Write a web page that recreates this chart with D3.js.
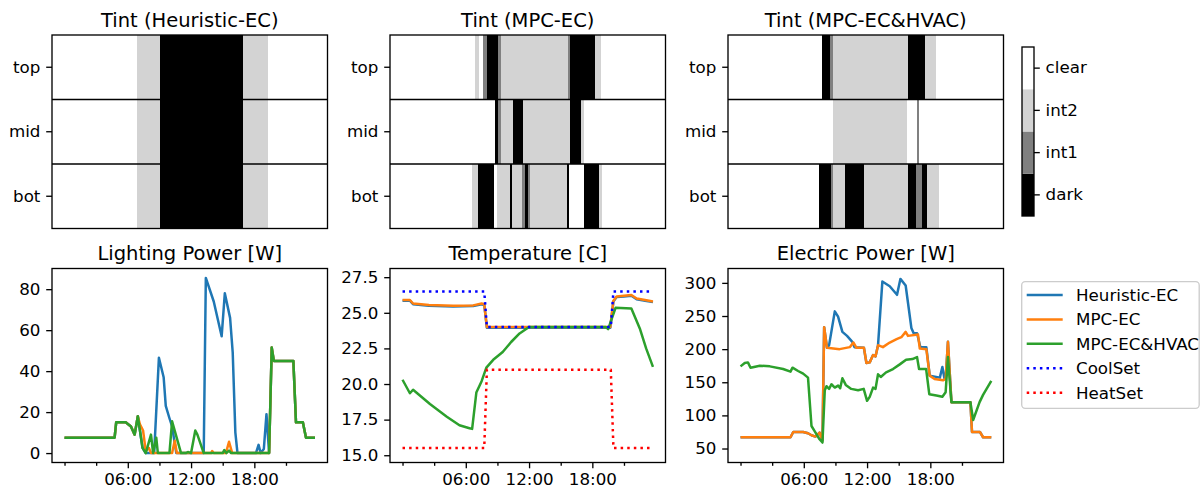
<!DOCTYPE html>
<html>
<head>
<meta charset="utf-8">
<script src="https://cdn.jsdelivr.net/npm/d3@7"></script>
<style>
  body { margin: 0; background: #fff; }
  svg text { font-family: "DejaVu Sans", sans-serif; fill: #000; }
</style>
</head>
<body>
<svg id="fig" width="1203" height="492"></svg>
<script>
// ---------- tint schedules ----------
// window-tint levels, darkest first
const tintLevels = ["dark", "int1", "int2", "clear"];
const tintColors = ["#000000", "#808080", "#d3d3d3", "#ffffff"];
const tintRows = ["top", "mid", "bot"];
// runs of non-clear tint per facade row: [start hour, end hour, level index]
const tintHeuristic = [
  [[7.4, 9.4, 2], [9.4, 16.6, 0], [16.6, 18.85, 2]],
  [[7.4, 9.4, 2], [9.4, 16.6, 0], [16.6, 18.85, 2]],
  [[7.4, 9.4, 2], [9.4, 16.6, 0], [16.6, 18.85, 2]]
];
const tintMpcEc = [
  [[7.42, 7.71, 2], [8.14, 8.43, 1], [8.43, 9.37, 0], [9.37, 9.66, 1], [9.66, 15.47, 2],
   [15.47, 15.71, 1], [15.71, 17.89, 0], [17.89, 18.38, 2]],
  [[9.16, 9.37, 0], [9.37, 9.66, 1], [9.66, 10.70, 2], [10.70, 11.58, 0], [11.58, 15.65, 2],
   [15.65, 16.64, 0], [16.64, 16.93, 2]],
  [[7.13, 7.65, 2], [7.65, 9.10, 0], [9.31, 10.47, 2], [10.47, 10.61, 0], [10.61, 11.49, 2],
   [11.49, 11.78, 1], [11.78, 11.98, 0], [11.98, 12.16, 1], [12.16, 15.42, 2], [15.42, 15.59, 0],
   [16.93, 18.18, 0], [18.18, 18.47, 2]]
];
const tintMpcEcHvac = [
  [[8.15, 8.87, 0], [8.87, 9.11, 1], [9.11, 15.71, 2], [15.71, 17.17, 0], [17.17, 18.13, 2]],
  [[9.16, 15.62, 2], [16.45, 16.65, 1]],
  [[7.92, 8.93, 0], [8.93, 9.16, 1], [9.16, 10.18, 2], [10.18, 11.84, 0], [11.84, 15.71, 2],
   [15.71, 16.38, 0], [16.38, 16.87, 1], [16.87, 17.37, 0], [17.37, 18.36, 2]]
];

// ---------- time series: [hour, value] ----------
const lightHeuristic = [[0,7.5],[4.75,7.5],[4.9,15],[5.8,15],[6.3,13],[6.65,9],[6.95,18],[7.4,2.5],[7.7,0],
  [8.5,0],[8.95,46.5],[9.4,37],[9.6,23],[9.95,17],[10.2,13],[10.6,0],[13.2,0],[13.4,85.5],[14.15,74],
  [14.9,57],[15.2,78],[15.7,66],[15.95,49],[16.2,10],[16.4,0],[18.15,0],[18.4,4],[18.6,0],[18.9,2],
  [19.15,19],[19.4,0],[19.65,51.5],[19.85,45],[21.7,45],[21.95,15],[22.6,15],[22.9,7.5],[23.75,7.5]];
const lightMpcEc = [[0,7.5],[4.75,7.5],[4.9,15],[5.8,15],[6.3,13],[6.65,9],[6.95,18],[7.15,14],[7.45,11],
  [7.7,1],[8.0,2.5],[8.2,0],[10.2,0],[10.45,6],[10.65,0],[13.9,0],[14.0,1],[14.15,0],[15.3,0],[15.6,5.5],
  [15.9,0],[19.4,0],[19.65,51.5],[19.85,45],[21.7,45],[21.95,15],[22.6,15],[22.9,7.5],[23.75,7.5]];
const lightMpcEcHvac = [[0,7.5],[4.75,7.5],[4.9,15],[5.8,15],[6.3,13],[6.65,9],[6.95,18],[7.4,2.5],[7.7,0],
  [8.2,9],[8.4,0],[8.7,7.5],[8.85,0],[9.95,0],[10.2,15.5],[11.05,0],[11.5,0],[11.7,0.5],[12.0,0],[12.4,11],
  [12.6,9],[13.2,0],[15.0,0],[15.15,1.5],[15.35,0],[15.6,1.2],[15.8,0],[19.4,0],[19.65,51.5],[19.85,45],
  [21.7,45],[21.95,15],[22.6,15],[22.9,7.5],[23.75,7.5]];

const tempHeuristic = [[0,25.85],[0.7,25.85],[1.0,25.6],[2.5,25.5],[4.8,25.45],[6.7,25.47],[7.5,25.6],
  [7.75,25.55],[8.0,23.95],[19.7,23.95],[20.0,25.8],[20.3,26.1],[21.0,26.15],[21.7,26.2],[22.2,25.95],
  [23.0,25.85],[23.75,25.75]];
const tempMpcEc = [[0,25.9],[0.7,25.9],[1.0,25.65],[2.5,25.55],[4.8,25.5],[6.7,25.52],[7.5,25.65],
  [7.75,25.6],[8.0,24],[19.7,24],[20.0,25.85],[20.3,26.15],[21.0,26.2],[21.7,26.25],[22.2,26.0],
  [23.0,25.9],[23.75,25.8]];
const tempMpcEcHvac = [[0,20.3],[0.7,19.35],[1.0,19.6],[2.6,18.6],[4.2,17.7],[5.4,17.1],[6.35,16.9],
  [6.6,16.85],[7.0,19.4],[7.5,20.2],[7.95,21.15],[8.6,21.7],[9.5,22.25],[10.3,22.95],[11.1,23.55],
  [12.0,24.0],[19.3,24.0],[19.5,23.85],[20.2,25.35],[21.7,25.3],[22.5,23.9],[23.1,22.5],[23.75,21.2]];
const coolSet = [[0,26.5],[7.75,26.5],[8.0,24],[19.75,24],[20.0,26.5],[23.75,26.5]];
const heatSet = [[0,15.5],[7.75,15.5],[8.0,21],[19.75,21],[20.0,15.5],[23.75,15.5]];

const elecHeuristic = [[0,67],[4.74,67],[5.0,75],[5.94,75],[6.4,73],[6.73,70],[7.1,68],[7.5,74],[7.77,62],
  [7.93,233],[8.2,202],[8.4,206],[8.94,257],[9.25,249],[9.66,226],[10.1,220],[10.6,211],[10.8,203],
  [11.7,202],[11.94,179],[12.25,180],[12.57,191],[12.8,189],[13.04,206],[13.45,302],[14.15,295],
  [14.84,282],[15.16,306],[15.66,296],[15.88,270],[16.2,232],[16.42,224],[16.74,224],[17.05,203],
  [17.62,203],[17.94,160],[18.9,157],[19.14,173],[19.35,155],[19.45,155],[19.67,211],[20.0,120],
  [21.8,120],[21.95,75],[22.7,75],[23.0,67],[23.78,67]];
const elecMpcEc = [[0,67],[4.74,67],[5.0,75],[5.94,75],[6.4,73],[6.73,70],[7.1,68],[7.5,74],[7.77,62],
  [7.93,233],[8.2,202],[9.4,200],[10.36,203],[10.7,210],[11.0,202],[11.7,202],[11.94,179],[12.25,180],
  [12.57,191],[12.8,189],[13.04,206],[13.5,203],[14.15,210],[14.8,215],[15.25,218],[15.66,226],
  [15.88,220],[16.83,222],[17.0,201],[17.62,200],[17.94,160],[18.4,155],[19.2,153],[19.45,155],
  [19.67,211],[20.0,120],[21.8,120],[21.95,75],[22.7,75],[23.0,67],[23.78,67]];
const elecMpcEcHvac = [[0,174],[0.4,179],[0.7,180],[0.95,172],[1.83,175],[2.78,174],[4.04,170],[4.74,166],
  [4.93,172],[5.46,167],[5.94,163],[6.4,157],[6.73,84],[7.04,76],[7.45,65],[7.77,59],[7.99,138],[8.15,144],
  [8.4,140],[8.62,147],[8.94,142],[9.25,145],[9.45,141],[9.66,156],[9.98,146],[10.5,140],[11.15,138],
  [11.68,140],[12.0,122],[12.25,128],[12.57,142],[12.8,140],[13.04,162],[13.3,158],[13.8,165],[14.46,170],
  [15.1,177],[15.7,184],[16.3,185],[16.74,188],[16.93,170],[17.6,170],[17.9,132],[18.57,130],[19.14,128],
  [19.45,135],[19.67,188],[20.0,120],[21.8,120],[22.06,93],[22.67,120],[23.0,131],[23.78,152]];

// ---------- axis ticks ----------
const hourMajorTicks = [6, 12, 18];
const hourMajorLabels = ["06:00", "12:00", "18:00"];
const hourMinorTicks = [0, 3, 9, 15, 21];
const lightTicks = [0, 20, 40, 60, 80];
const tempTicks = [15, 17.5, 20, 22.5, 25, 27.5];
const elecTicks = [50, 100, 150, 200, 250, 300];

const seriesNames = ["Heuristic-EC", "MPC-EC", "MPC-EC&HVAC", "CoolSet", "HeatSet"];
const seriesColors = ["#1f77b4", "#ff7f0e", "#2ca02c", "#0000ff", "#ff0000"];

// ---------- layout ----------
const svg = d3.select("#fig");
const colX = [52, 390, 728];
const panelW = 275.5;
const topRow = [35, 228.5];
const botRow = [268.5, 462.5];
const TICK = 5.8, MINOR = 3.3, PAD = 5.8;
const FS = 16.7, TITLE_FS = 19.5;
const SPINE = 1.33, LW = 2.5;

function frame(g, w, h) {
  g.append("rect").attr("x", 0).attr("y", 0).attr("width", w).attr("height", h)
    .attr("fill", "none").attr("stroke", "#000").attr("stroke-width", SPINE);
}
function title(g, w, text) {
  g.append("text").attr("x", w / 2).attr("y", -8.5).attr("text-anchor", "middle")
    .attr("font-size", TITLE_FS).text(text);
}
function styleAxis(sel) {
  sel.select(".domain").remove();
  sel.selectAll(".tick line").attr("stroke", "#000").attr("stroke-width", SPINE);
  sel.selectAll(".tick text").attr("font-size", FS).attr("font-family", "DejaVu Sans").attr("fill", "#000");
}

// ---------- tint panels ----------
const tintPanels = [
  ["Tint (Heuristic-EC)", tintHeuristic],
  ["Tint (MPC-EC)", tintMpcEc],
  ["Tint (MPC-EC&HVAC)", tintMpcEcHvac]
];
tintPanels.forEach(([name, rows], i) => {
  const h = topRow[1] - topRow[0];
  const g = svg.append("g").attr("transform", `translate(${colX[i]},${topRow[0]})`);
  const x = d3.scaleLinear().domain([0, 24]).range([0, panelW]);
  const y = d3.scaleBand().domain(tintRows).range([0, h]);
  // clear background for every row
  g.selectAll("rect.bg").data(tintRows).join("rect")
    .attr("x", 0).attr("width", panelW)
    .attr("y", d => y(d)).attr("height", y.bandwidth())
    .attr("fill", tintColors[3]);
  rows.forEach((runs, r) => {
    g.append("g").selectAll("rect").data(runs).join("rect")
      .attr("x", d => x(d[0])).attr("width", d => x(d[1]) - x(d[0]))
      .attr("y", y(tintRows[r])).attr("height", y.bandwidth())
      .attr("fill", d => tintColors[d[2]])
      .attr("shape-rendering", "crispEdges");
  });
  // row separators
  g.selectAll("line.sep").data(tintRows.slice(1)).join("line")
    .attr("x1", 0).attr("x2", panelW)
    .attr("y1", d => y(d)).attr("y2", d => y(d))
    .attr("stroke", "#000").attr("stroke-width", SPINE);
  const ax = g.append("g").call(d3.axisLeft(y).tickSize(TICK).tickPadding(PAD).tickSizeOuter(0));
  styleAxis(ax);
  frame(g, panelW, h);
  title(g, panelW, name);
});

// ---------- colorbar ----------
{
  const cbX = 1022, cbW = 12, cbTop = 47, cbBot = 216;
  const g = svg.append("g").attr("transform", `translate(${cbX},${cbTop})`);
  const y = d3.scaleBand().domain(tintLevels.slice().reverse()).range([0, cbBot - cbTop]);
  g.selectAll("rect").data(tintLevels).join("rect")
    .attr("x", 0).attr("width", cbW)
    .attr("y", d => y(d)).attr("height", y.bandwidth())
    .attr("fill", (d, k) => tintColors[k]);
  const ax = g.append("g").attr("transform", `translate(${cbW},0)`)
    .call(d3.axisRight(y).tickSize(TICK).tickPadding(PAD).tickSizeOuter(0));
  styleAxis(ax);
  frame(g, cbW, cbBot - cbTop);
}

// ---------- line panels ----------
const tMin = 0, tMax = 23.75, tPad = 0.05 * (tMax - tMin);
function linePanel(i, name, yDomain, yTicks, yFmt, series) {
  const h = botRow[1] - botRow[0];
  const g = svg.append("g").attr("transform", `translate(${colX[i]},${botRow[0]})`);
  const x = d3.scaleLinear().domain([tMin - tPad, tMax + tPad]).range([0, panelW]);
  const y = d3.scaleLinear().domain(yDomain).range([h, 0]);
  const clip = "clip" + i;
  g.append("clipPath").attr("id", clip).append("rect").attr("width", panelW).attr("height", h);
  const line = d3.line().x(d => x(d[0])).y(d => y(d[1]));
  const lines = g.append("g").attr("clip-path", `url(#${clip})`);
  series.forEach(s => {
    lines.append("path").datum(s.data).attr("d", line)
      .attr("fill", "none").attr("stroke", s.color).attr("stroke-width", LW)
      .attr("stroke-linejoin", "round")
      .attr("stroke-dasharray", s.dotted ? "2.5,4.1" : null);
  });
  const ay = g.append("g").call(d3.axisLeft(y).tickValues(yTicks).tickFormat(yFmt)
    .tickSize(TICK).tickPadding(PAD).tickSizeOuter(0));
  styleAxis(ay);
  const axMajor = g.append("g").attr("transform", `translate(0,${h})`)
    .call(d3.axisBottom(x).tickValues(hourMajorTicks)
      .tickFormat((d, k) => hourMajorLabels[k]).tickSize(TICK).tickPadding(5).tickSizeOuter(0));
  styleAxis(axMajor);
  const axMinor = g.append("g").attr("transform", `translate(0,${h})`)
    .call(d3.axisBottom(x).tickValues(hourMinorTicks).tickFormat("").tickSize(MINOR).tickSizeOuter(0));
  styleAxis(axMinor);
  frame(g, panelW, h);
  title(g, panelW, name);
}

linePanel(0, "Lighting Power [W]", [-4.6, 90.1], lightTicks, d3.format("d"), [
  { data: lightHeuristic, color: seriesColors[0] },
  { data: lightMpcEc, color: seriesColors[1] },
  { data: lightMpcEcHvac, color: seriesColors[2] }
]);
linePanel(1, "Temperature [C]", [14.49, 28.11], tempTicks, d3.format(".1f"), [
  { data: tempHeuristic, color: seriesColors[0] },
  { data: tempMpcEc, color: seriesColors[1] },
  { data: tempMpcEcHvac, color: seriesColors[2] },
  { data: coolSet, color: seriesColors[3], dotted: true },
  { data: heatSet, color: seriesColors[4], dotted: true }
]);
linePanel(2, "Electric Power [W]", [28.9, 321.7], elecTicks, d3.format("d"), [
  { data: elecHeuristic, color: seriesColors[0] },
  { data: elecMpcEc, color: seriesColors[1] },
  { data: elecMpcEcHvac, color: seriesColors[2] }
]);

// ---------- legend ----------
{
  const lx = 1021.7, ly = 281.7, lw = 177.5, lh = 126.6;
  const g = svg.append("g");
  g.append("rect").attr("x", lx).attr("y", ly).attr("width", lw).attr("height", lh)
    .attr("rx", 3.5).attr("fill", "#fff").attr("fill-opacity", 0.8)
    .attr("stroke", "#cccccc").attr("stroke-width", 1.33);
  const rowY = d3.scalePoint().domain(seriesNames).range([ly + 13.3, ly + 111]);
  const items = g.selectAll("g.item").data(seriesNames).join("g")
    .attr("transform", d => `translate(0,${rowY(d)})`);
  items.append("line").attr("x1", lx + 5).attr("x2", lx + 41)
    .attr("stroke", (d, k) => seriesColors[k]).attr("stroke-width", LW)
    .attr("stroke-dasharray", (d, k) => k >= 3 ? "2.5,4.1" : null);
  items.append("text").attr("x", lx + 54.3).attr("dy", "0.35em")
    .attr("font-size", FS).text(d => d);
}
</script>
</body>
</html>
